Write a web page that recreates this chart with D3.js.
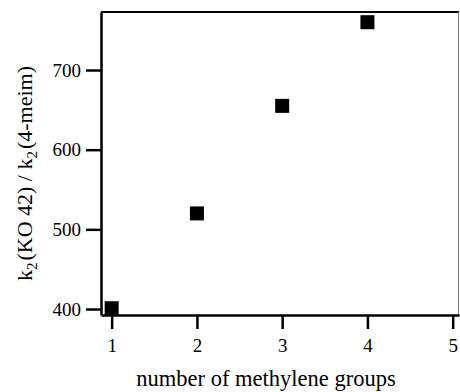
<!DOCTYPE html>
<html>
<head>
<meta charset="utf-8">
<script src="https://cdn.jsdelivr.net/npm/d3@7"></script>
<style>
  body { margin: 0; background: #fff; }
  text { font-family: "Liberation Serif", "Times New Roman", serif; fill: #000; }
</style>
</head>
<body>
<div id="chart"></div>
<script>
// Data
//=====================================================================
var methyleneGroups = [1, 2, 3, 4];
var rateRatio = [401, 520, 655, 760];

var xTicks = [1, 2, 3, 4, 5];
var yTicks = [400, 500, 600, 700];

var xLimits = [0.875, 5.074];
var yLimits = [392.5, 772.8];

// Layout
//=====================================================================
var svgWidth = 460;
var svgHeight = 392;

var plot = { left: 101, right: 459, top: 12, bottom: 315 };

var svg = d3.select("#chart")
    .append("svg")
    .attr("width", svgWidth)
    .attr("height", svgHeight);

// Scales
var xScale = d3.scaleLinear()
    .domain(xLimits)
    .range([plot.left, plot.right]);

var yScale = d3.scaleLinear()
    .domain(yLimits)
    .range([plot.bottom, plot.top]);

// Frame: top and right borders
svg.append("line")
    .attr("x1", plot.left).attr("x2", plot.right)
    .attr("y1", plot.top).attr("y2", plot.top)
    .attr("stroke", "#000")
    .attr("stroke-width", 2);

svg.append("line")
    .attr("x1", plot.right - 0.5).attr("x2", plot.right - 0.5)
    .attr("y1", plot.top).attr("y2", plot.bottom)
    .attr("stroke", "#777")
    .attr("stroke-width", 1);

// Axes
//=====================================================================
var bottomAxis = d3.axisBottom(xScale)
    .tickValues(xTicks)
    .tickFormat(d3.format("d"))
    .tickSize(14)
    .tickSizeOuter(0)
    .tickPadding(10);

var leftAxis = d3.axisLeft(yScale)
    .tickValues(yTicks)
    .tickFormat(d3.format("d"))
    .tickSize(15)
    .tickSizeOuter(0)
    .tickPadding(5);

var xAxisGroup = svg.append("g")
    .attr("transform", `translate(0, ${plot.bottom})`)
    .call(bottomAxis);

var yAxisGroup = svg.append("g")
    .attr("transform", `translate(${plot.left}, 0)`)
    .call(leftAxis);

[xAxisGroup, yAxisGroup].forEach(function (g) {
    g.attr("font-family", null).attr("font-size", null);
    g.select(".domain").attr("stroke", "#000").attr("stroke-width", 2.5);
    g.selectAll(".tick line").attr("stroke", "#000").attr("stroke-width", 2.5);
    g.selectAll(".tick text")
        .attr("fill", "#000")
        .style("font-family", "'Liberation Serif', serif")
        .style("font-size", "19px");
});

// Markers
//=====================================================================
var markerSize = 14;
svg.append("g")
    .selectAll("rect")
    .data(methyleneGroups)
    .enter()
    .append("rect")
    .attr("x", (d, i) => xScale(d) - markerSize / 2)
    .attr("y", (d, i) => yScale(rateRatio[i]) - markerSize / 2)
    .attr("width", markerSize)
    .attr("height", markerSize)
    .attr("fill", "#000");

// Axis titles
//=====================================================================
svg.append("text")
    .attr("x", 266)
    .attr("y", 386)
    .attr("text-anchor", "middle")
    .style("font-size", "22.5px")
    .text("number of methylene groups");

var yTitle = svg.append("text")
    .attr("transform", `translate(32, ${(plot.top + plot.bottom) / 2 + 10}) rotate(-90)`)
    .attr("text-anchor", "middle")
    .style("font-size", "22px");

yTitle.append("tspan").text("k");
yTitle.append("tspan").attr("dy", 5).style("font-size", "15px").text("2");
yTitle.append("tspan").attr("dy", -5).attr("dx", 2).text("(KO 42) / k");
yTitle.append("tspan").attr("dy", 5).style("font-size", "15px").text("2");
yTitle.append("tspan").attr("dy", -5).attr("dx", 2).text("(4-meim)");
</script>
</body>
</html>
